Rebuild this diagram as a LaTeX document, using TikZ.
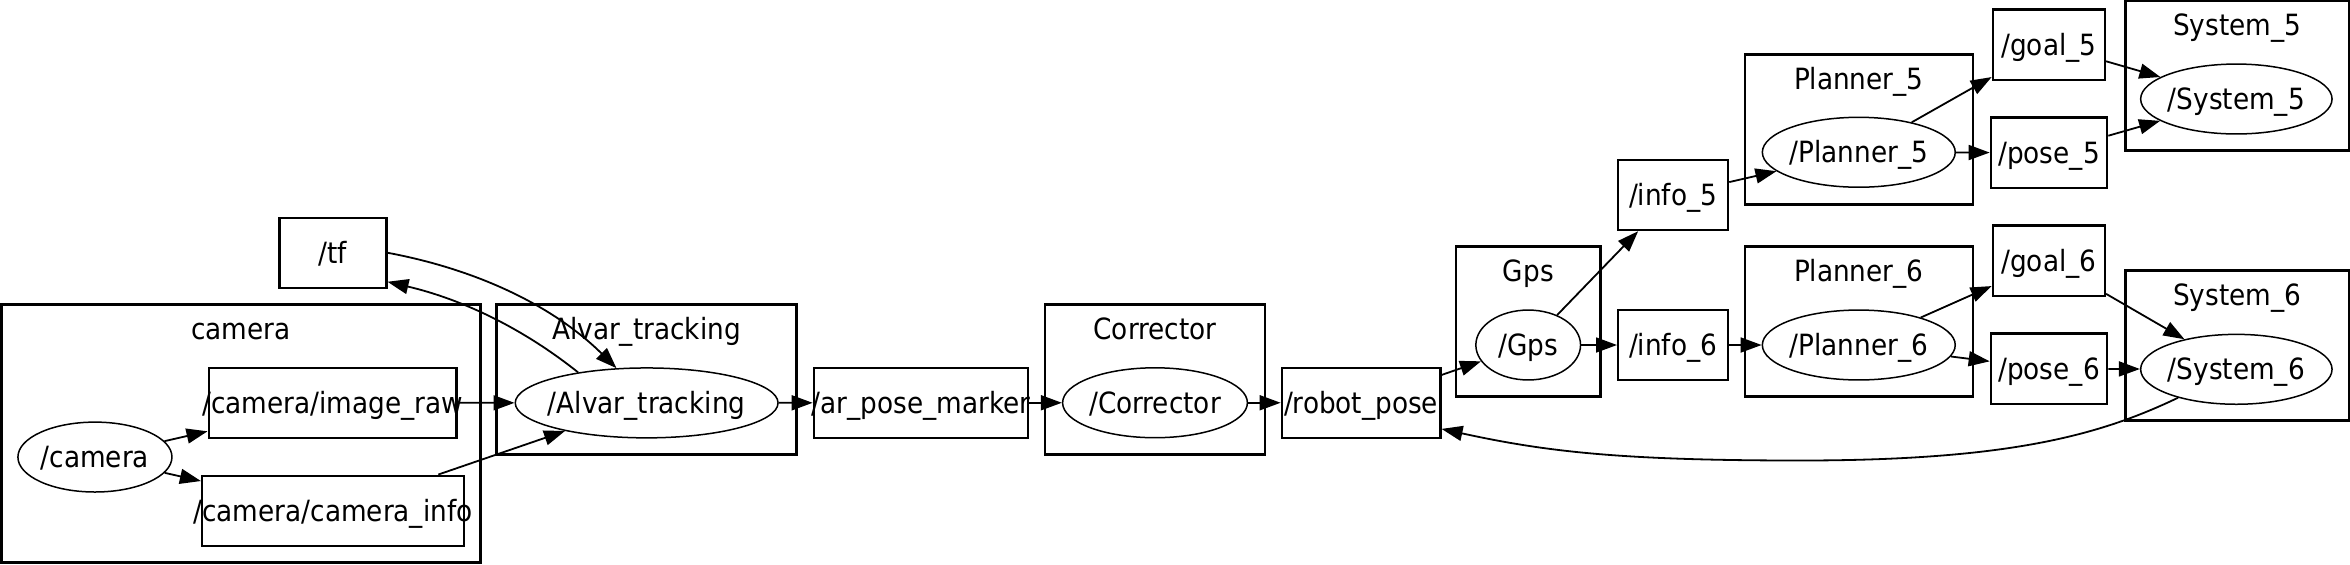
\documentclass[tikz,border=0pt]{standalone}
\usepackage{fontspec}
\setmainfont{DejaVu Sans Condensed}
\usetikzlibrary{arrows.meta,shapes.geometric}

\begin{document}
\begin{tikzpicture}[%
            >={Triangle[length=14pt,width=10pt]},
            x=1pt,
            y=-1pt,
            font=\fontsize{19.5}{23}\selectfont,
            ]
    \tikzset{topic/.style = {draw, line width=1.6pt, inner sep=0pt, minimum height=46.7pt, label=center:{#1}}}
    \tikzset{proc/.style = {draw, ellipse, line width=1pt, inner sep=0pt, minimum height=46.6pt, label=center:{#1}}}
    \tikzset{group/.style = {draw, line width=1.6pt, inner sep=0pt, minimum height=100pt}}
    \tikzset{glabel/.style = {anchor=base, inner sep=0pt}}
    \tikzset{edge/.style = {->, line width=1.2pt}}
    \tikzset{every label/.style = {text height=16pt, text depth=2pt, inner sep=0pt}}

    \useasboundingbox (0,0) rectangle (1566.67,376);

    % Groups
    \node[group, minimum width=319.4pt, minimum height=172.2pt] (camG) at (160.7,289) {};
    \node[glabel] (camL) at (160.7,226) {camera};
    \node[group, minimum width=200pt] (alvarG) at (431,252.9) {};
    \node[glabel] (alvarL) at (431,226) {Alvar\_tracking};
    \node[group, minimum width=147pt] (corrG) at (770,252.9) {};
    \node[glabel] (corrL) at (770,226) {Corrector};
    \node[group, minimum width=96.3pt] (gpsG) at (1018.9,214.4) {};
    \node[glabel] (gpsL) at (1018.9,187.6) {Gps};
    \node[group, minimum width=152pt] (plan5G) at (1239.2,86.3) {};
    \node[glabel] (plan5L) at (1239.2,59.5) {Planner\_5};
    \node[group, minimum width=152pt] (plan6G) at (1239.2,214.4) {};
    \node[glabel] (plan6L) at (1239.2,187.6) {Planner\_6};
    \node[group, minimum width=149pt] (sys5G) at (1491.5,50.4) {};
    \node[glabel] (sys5L) at (1491.5,23.5) {System\_5};
    \node[group, minimum width=149pt] (sys6G) at (1491.5,230.4) {};
    \node[glabel] (sys6L) at (1491.5,203.6) {System\_6};

    % Nodes
    \node[proc=/camera, minimum width=102.7pt] (camN) at (63.3,304.7) {};
    \node[proc=/Alvar\_tracking, minimum width=175.2pt] (alvar) at (431.1,268.6) {};
    \node[proc=/Corrector, minimum width=123.2pt] (corr) at (770,268.5) {};
    \node[proc=/Gps, minimum width=69.8pt] (gpsN) at (1018.8,230) {};
    \node[proc=/Planner\_5, minimum width=128.6pt] (plan5) at (1239.2,101.5) {};
    \node[proc=/Planner\_6, minimum width=128.6pt] (plan6) at (1239.2,230) {};
    \node[proc=/System\_5, minimum width=127.6pt] (sys5) at (1490.9,66) {};
    \node[proc=/System\_6, minimum width=127.6pt] (sys6) at (1490.9,246.2) {};

    % Topics
    \node[topic=/tf, minimum width=71.1pt] (tf) at (222,168.5) {};
    \node[topic=/camera/image\_raw, minimum width=165.3pt] (raw) at (221.8,268.5) {};
    \node[topic=/camera/camera\_info, minimum width=174.5pt] (info) at (222,340.5) {};
    \node[topic=/ar\_pose\_marker, minimum width=142.9pt] (arpose) at (614,268.5) {};
    \node[topic=/robot\_pose, minimum width=105.7pt] (robpose) at (907.4,268.5) {};
    \node[topic=/info\_5, minimum width=73.2pt] (info5) at (1115.4,130) {};
    \node[topic=/info\_6, minimum width=73.2pt] (info6) at (1115.4,230) {};
    \node[topic=/goal\_5, minimum width=74.7pt] (goal5) at (1365.9,29.8) {};
    \node[topic=/pose\_5, minimum width=77.5pt] (pose5) at (1366,101.8) {};
    \node[topic=/goal\_6, minimum width=74.7pt] (goal6) at (1365.9,173.8) {};
    \node[topic=/pose\_6, minimum width=77.5pt] (pose6) at (1366,245.8) {};

    % Edges
    \draw[edge] (camN) -- (raw);
    \draw[edge] (camN) -- (info);
    \draw[edge] (raw) -- (alvar);
    \draw[edge] (info) -- (alvar);
    \draw[edge] (tf.east) .. controls (320,180) and (370,205) .. (alvar.131);
    \draw[edge] (alvar.156) .. controls (350,220) and (310,200) .. (tf.-28);
    \draw[edge] (alvar) -- (arpose);
    \draw[edge] (arpose) -- (corr);
    \draw[edge] (corr) -- (robpose);
    \draw[edge] (robpose) -- (gpsN);
    \draw[edge] (gpsN) -- (info5);
    \draw[edge] (gpsN) -- (info6);
    \draw[edge] (info5) -- (plan5);
    \draw[edge] (info6) -- (plan6);
    \draw[edge] (plan5) -- (goal5);
    \draw[edge] (plan5) -- (pose5);
    \draw[edge] (plan6) -- (goal6);
    \draw[edge] (plan6) -- (pose6);
    \draw[edge] (goal5) -- (sys5);
    \draw[edge] (pose5) -- (sys5);
    \draw[edge] (goal6) -- (sys6);
    \draw[edge] (pose6) -- (sys6);
    \draw[edge] (sys6.206) .. controls (1400,290) and (1340,307) .. (1200,307) .. controls (1080,307) and (1030,301) .. (robpose.-18);

\end{tikzpicture}
\end{document}
